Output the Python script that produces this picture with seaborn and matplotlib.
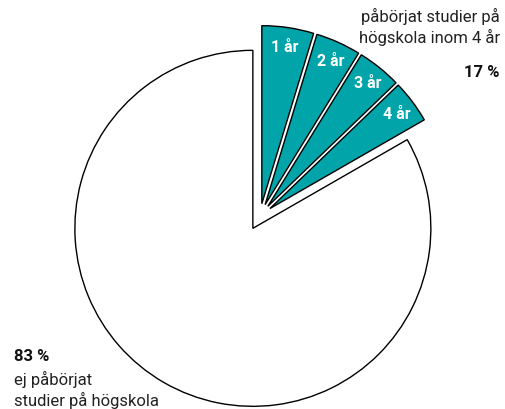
import matplotlib
matplotlib.use("Agg")
import matplotlib.pyplot as plt
import seaborn as sns

# Data
categories = ["1 år", "2 år", "3 år", "4 år", "ej påbörjat"]
shares = [4.7, 4.1, 4.0, 3.9, 83.3]
slice_labels = ["1 år", "2 år", "3 år", "4 år", ""]
top_label = "påbörjat studier på\nhögskola inom 4 år"
top_value = "17 %"
bottom_value = "83 %"
bottom_label = "ej påbörjat\nstudier på högskola"

sns.set_theme(style="white")
plt.rcParams['font.family'] = ['Roboto', 'DejaVu Sans']

teal = "#00A4A9"
colors = [teal, teal, teal, teal, "white"]
R = 178
explode = [0.07 * R, 0.07 * R, 0.07 * R, 0.07 * R, 0.08 * R]

W, H = 506, 410
fig = plt.figure(figsize=(W / 100, H / 100), dpi=100)
ax = fig.add_axes([0, 0, 1, 1])

wedges, texts = ax.pie(
    shares, labels=slice_labels, colors=colors, explode=explode,
    startangle=90, counterclock=False, radius=R, center=(260, 193),
    labeldistance=0.89, frame=True,
    wedgeprops=dict(edgecolor="black", linewidth=1.0),
    textprops=dict(color="white", fontsize=11.5, fontweight="bold"),
)
for t in texts:
    t.set_ha("center")
    t.set_va("center")
ax.set_xlim(0, W)
ax.set_ylim(0, H)
ax.set_aspect("equal")
ax.axis("off")

fig.text(500 / W, 1 - 8 / H, top_label, ha="right", va="top",
         fontsize=12, color="#222222", linespacing=1.3)
fig.text(500 / W, 1 - 73 / H, top_value, ha="right", va="center",
         fontsize=12, fontweight="bold", color="#111111")
fig.text(14 / W, 1 - 357 / H, bottom_value, ha="left", va="center",
         fontsize=12, fontweight="bold", color="#111111")
fig.text(14 / W, 1 - 371 / H, bottom_label, ha="left", va="top",
         fontsize=12, color="#222222", linespacing=1.3)

fig.savefig("out.png", dpi=100)
